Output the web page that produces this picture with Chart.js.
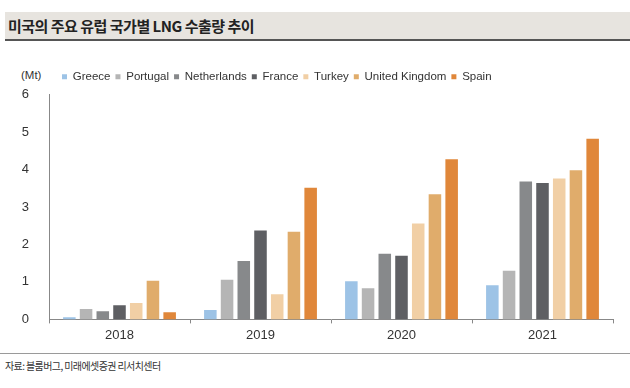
<!DOCTYPE html>
<html>
<head>
<meta charset="utf-8">
<script src="https://cdn.jsdelivr.net/npm/chart.js@4"></script>
<style>
    body { margin: 0; background: #fff; width: 630px; height: 388px; position: relative; overflow: hidden; }
    #title {
        position: absolute; left: 5px; top: 12px; width: 622px; height: 27px;
        background: #e7e4df; border-bottom: 2px solid #555;
        font-family: "Noto Sans CJK KR", sans-serif; font-weight: bold; font-size: 15px;
        letter-spacing: -0.5px; line-height: 27px; color: #222; padding-left: 3px;
    }
    #unit {
        position: absolute; left: 21px; top: 69px;
        font-family: "Liberation Sans", Arial, sans-serif; font-size: 11.5px; color: #333;
    }
    #wrap { position: absolute; left: 0; top: 50px; width: 630px; height: 300px; }
    #footer {
        position: absolute; left: 0; top: 353px; width: 625px;
        border-top: 1px solid #9a9a9a;
        font-family: "Noto Sans CJK KR", sans-serif; font-size: 10px; letter-spacing: -0.6px;
        color: #333; padding: 4px 0 0 5px;
    }
</style>
</head>
<body>
<div id="title">미국의 주요 유럽 국가별 LNG 수출량 추이</div>
<div id="unit">(Mt)</div>
<div id="wrap"><canvas id="chart"></canvas></div>
<div id="footer">자료: 블룸버그, 미래에셋증권 리서치센터</div>
<script>
    // Data (Mt)
    const years = ['2018', '2019', '2020', '2021'];
    const countries = ['Greece', 'Portugal', 'Netherlands', 'France', 'Turkey', 'United Kingdom', 'Spain'];
    const greece = [0.06, 0.25, 1.02, 0.91];
    const portugal = [0.28, 1.06, 0.83, 1.30];
    const netherlands = [0.22, 1.56, 1.75, 3.68];
    const france = [0.38, 2.37, 1.70, 3.64];
    const turkey = [0.44, 0.67, 2.56, 3.76];
    const unitedKingdom = [1.03, 2.34, 3.34, 3.98];
    const spain = [0.19, 3.51, 4.27, 4.82];
    const yTicks = [0, 1, 2, 3, 4, 5, 6];

    const seriesValues = [greece, portugal, netherlands, france, turkey, unitedKingdom, spain];
    const colors = ['#9dc3e6', '#b5b5b5', '#87898b', '#5e5f63', '#f1cfa5', '#e0ac6b', '#e0873a'];

    const datasets = countries.map((name, i) => ({
        label: name,
        data: seriesValues[i],
        backgroundColor: colors[i],
        borderWidth: 0,
        categoryPercentage: 0.83,
        barPercentage: 0.75
    }));

    // nudge the legend so it sits where the reference one does
    const legendShift = {
        id: 'legendShift',
        afterLayout(chart) {
            chart.legend.left += 8;
            chart.legend.right += 8;
            chart.legend.top -= 2;
            chart.legend.bottom -= 2;
        }
    };

    new Chart(document.getElementById('chart'), {
        type: 'bar',
        data: { labels: years, datasets: datasets },
        plugins: [legendShift],
        options: {
            responsive: true,
            maintainAspectRatio: false,
            animation: false,
            layout: { padding: { left: 0, right: 17, top: 18, bottom: 3 } },
            plugins: {
                tooltip: { enabled: false },
                legend: {
                    position: 'top',
                    align: 'start',
                    fullSize: false,
                    labels: {
                        boxWidth: 5,
                        boxHeight: 5,
                        padding: 5,
                        color: '#333',
                        font: { family: '"Liberation Sans", Arial, sans-serif', size: 11.5 }
                    }
                }
            },
            scales: {
                x: {
                    grid: { display: true, drawOnChartArea: false, offset: true, color: '#888', tickLength: 4 },
                    border: { color: '#888' },
                    ticks: { color: '#333', padding: 4, font: { family: '"Liberation Sans", Arial, sans-serif', size: 13 } }
                },
                y: {
                    min: 0,
                    max: 6,
                    afterFit: scale => { scale.width = 49; },
                    afterBuildTicks: scale => { scale.ticks = yTicks.map(v => ({ value: v })); },
                    grid: { display: false },
                    border: { color: '#888' },
                    ticks: { color: '#333', padding: 12, font: { family: '"Liberation Sans", Arial, sans-serif', size: 13 } }
                }
            }
        }
    });
</script>
</body>
</html>
